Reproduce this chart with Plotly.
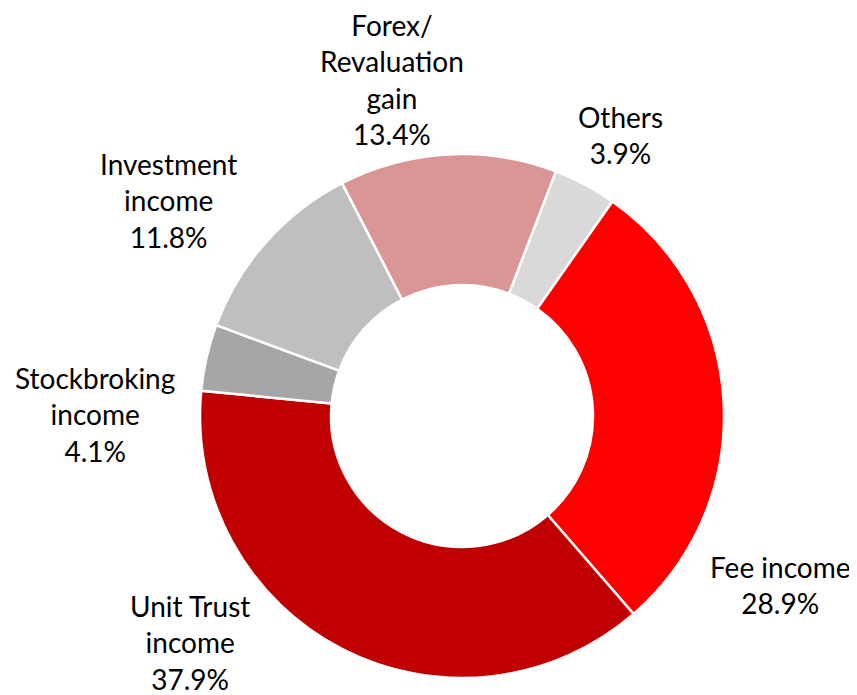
import plotly.graph_objects as go

# Data
categories = ["Others", "Fee income", "Unit Trust income", "Stockbroking income",
              "Investment income", "Forex/Revaluation gain"]
values = [3.9, 28.9, 37.9, 4.1, 11.8, 13.4]
label_text = ["Others", "Fee income", "Unit Trust<br>income", "Stockbroking<br>income",
              "Investment<br>income", "Forex/<br>Revaluation<br>gain"]

# Styles / layout
colors = ["#D9D9D9", "#FF0000", "#C00000", "#A6A6A6", "#BFBFBF", "#D99694"]
label_pos = [(620, 135), (780, 585), (190, 642), (95, 415), (168, 200), (392, 80)]  # page pixel centres

W, H = 857, 695
OFF = 8  # default page body margin
cx, cy, R = 462 - OFF, 416 - OFF, 262

fig = go.Figure(go.Pie(
    labels=categories,
    values=values,
    hole=0.5,
    sort=False,
    direction="clockwise",
    rotation=21,
    marker=dict(colors=colors, line=dict(color="white", width=2.5)),
    textinfo="none",
    hoverinfo="label+percent",
    domain=dict(x=[(cx - R) / W, (cx + R) / W], y=[(H - cy - R) / H, (H - cy + R) / H]),
    showlegend=False,
))

total = sum(values)
for txt, v, (px, py) in zip(label_text, values, label_pos):
    fig.add_annotation(
        x=(px - OFF) / W, y=1 - (py - OFF) / H, xref="paper", yref="paper",
        text=f"{txt}<br>{v / total * 100:.1f}%",
        showarrow=False, xanchor="center", yanchor="middle",
        font=dict(family="Lato", size=28, color="#000000"),
        align="center",
    )

fig.update_layout(
    width=W, height=H,
    margin=dict(l=0, r=0, t=0, b=0),
    paper_bgcolor="white", plot_bgcolor="white",
)

fig.write_html("out.html")
